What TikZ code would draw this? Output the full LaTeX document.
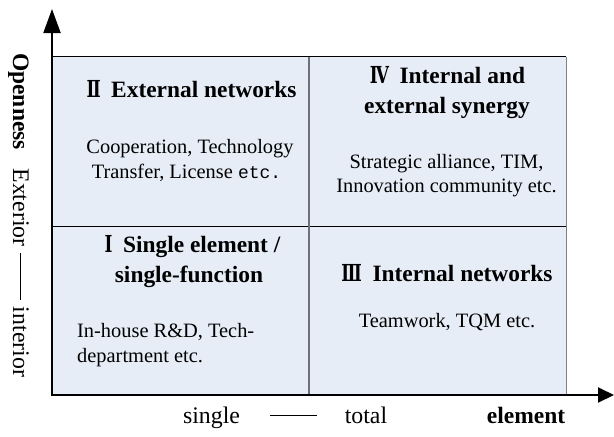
\documentclass[tikz,border=0pt]{standalone}
\usepackage{fontspec}
\usepackage{graphicx}
\setmainfont{Liberation Serif}
\setmonofont{Liberation Mono}
\newfontfamily\numfont{DejaVu Serif}
\usetikzlibrary{arrows.meta}
\definecolor{cellfill}{HTML}{E7EDF7}
\definecolor{divgray}{HTML}{6E7278}
\tikzset{
  cell/.style={fill=cellfill, draw=none, minimum width=257pt, minimum height=169pt, inner sep=0pt},
  title/.style={font=\fontsize{23.4}{29}\selectfont\bfseries, inner sep=0pt, anchor=base},
  body/.style={font=\fontsize{20.4}{25}\selectfont, inner sep=0pt, anchor=base},
  axlabel/.style={font=\fontsize{23.8}{28}\selectfont, inner sep=0pt, anchor=base},
  axbold/.style={axlabel, font=\fontsize{23.5}{28}\selectfont\bfseries},
  axis/.style={line width=2pt, draw=black},
}
\newcommand{\rn}[1]{\scalebox{0.72}[1]{\numfont\bfseries #1}\hspace{0.45em}}
\begin{document}
\begin{tikzpicture}[x=1pt,y=-1pt]
\useasboundingbox (0,0) rectangle (614,437);
% cells
\node[cell] (c2) at (180,141.5) {};
\node[cell] (c4) at (437.5,141.5) {};
\node[cell] (c1) at (180,310.5) {};
\node[cell] (c3) at (437.5,310.5) {};
% grid lines
\draw[line width=0.9pt, black] (c2.north west) -- (c4.north east);
\draw[line width=1.2pt, gray] (c4.north east) -- (c3.south east);
\draw[line width=1.4pt, black] (c2.south west) -- (c4.south east);
\draw[line width=1.6pt, divgray] (c2.north east) -- (c1.south east);
% axes
\coordinate (o) at (51,395);
\coordinate (xend) at (614,395);
\coordinate (ystart) at (52,396);
\coordinate (yend) at (52,9);
\draw[axis, -{Triangle[length=16pt,width=15pt]}] (o) -- (xend);
\draw[axis, -{Triangle[length=24pt,width=17pt]}] (ystart) -- (yend);
% quadrant II
\node[title] (t2) at (191.5,97) {\rn{Ⅱ}External networks};
\node[body] (b2a) at (190,153) {Cooperation, Technology};
\node[body] (b2b) at (186.5,178) {Transfer, License {\ttfamily\fontsize{18}{25}\selectfont etc.}};
% quadrant IV
\node[title] (t4a) at (447.5,83) {\rn{Ⅳ}Internal and};
\node[title] (t4b) at (447,113) {external synergy};
\node[body] (b4a) at (446.5,168) {Strategic alliance, TIM,};
\node[body] (b4b) at (446.5,192) {Innovation community etc.};
% quadrant I
\node[title] (t1a) at (192.5,252) {\rn{Ⅰ}Single element /};
\node[title] (t1b) at (189,282) {single-function};
\node[body, anchor=base west] (b1a) at (77,337) {In-house R\&D, Tech-};
\node[body, anchor=base west] (b1b) at (77,362) {department etc.};
% quadrant III
\node[title] (t3) at (447,281) {\rn{Ⅲ}Internal networks};
\node[body] (b3) at (447,327) {Teamwork, TQM etc.};
% x-axis labels
\node[axlabel] (xs) at (211.5,423) {single};
\coordinate (xd1) at (270,415);
\coordinate (xd2) at (317,415);
\draw[line width=0.7pt] (xd1) -- (xd2);
\node[axlabel] (xt) at (366,423) {total};
\node[axbold] (xe) at (526,423) {element};
% y-axis labels
\node[axbold, rotate=-90] (yo) at (13,101.5) {Openness};
\node[axlabel, rotate=-90] (yx) at (13,207.5) {Exterior};
\coordinate (yd1) at (20,253);
\coordinate (yd2) at (20,300);
\draw[line width=0.7pt] (yd1) -- (yd2);
\node[axlabel, rotate=-90] (yi) at (13,342) {interior};
\end{tikzpicture}
\end{document}
